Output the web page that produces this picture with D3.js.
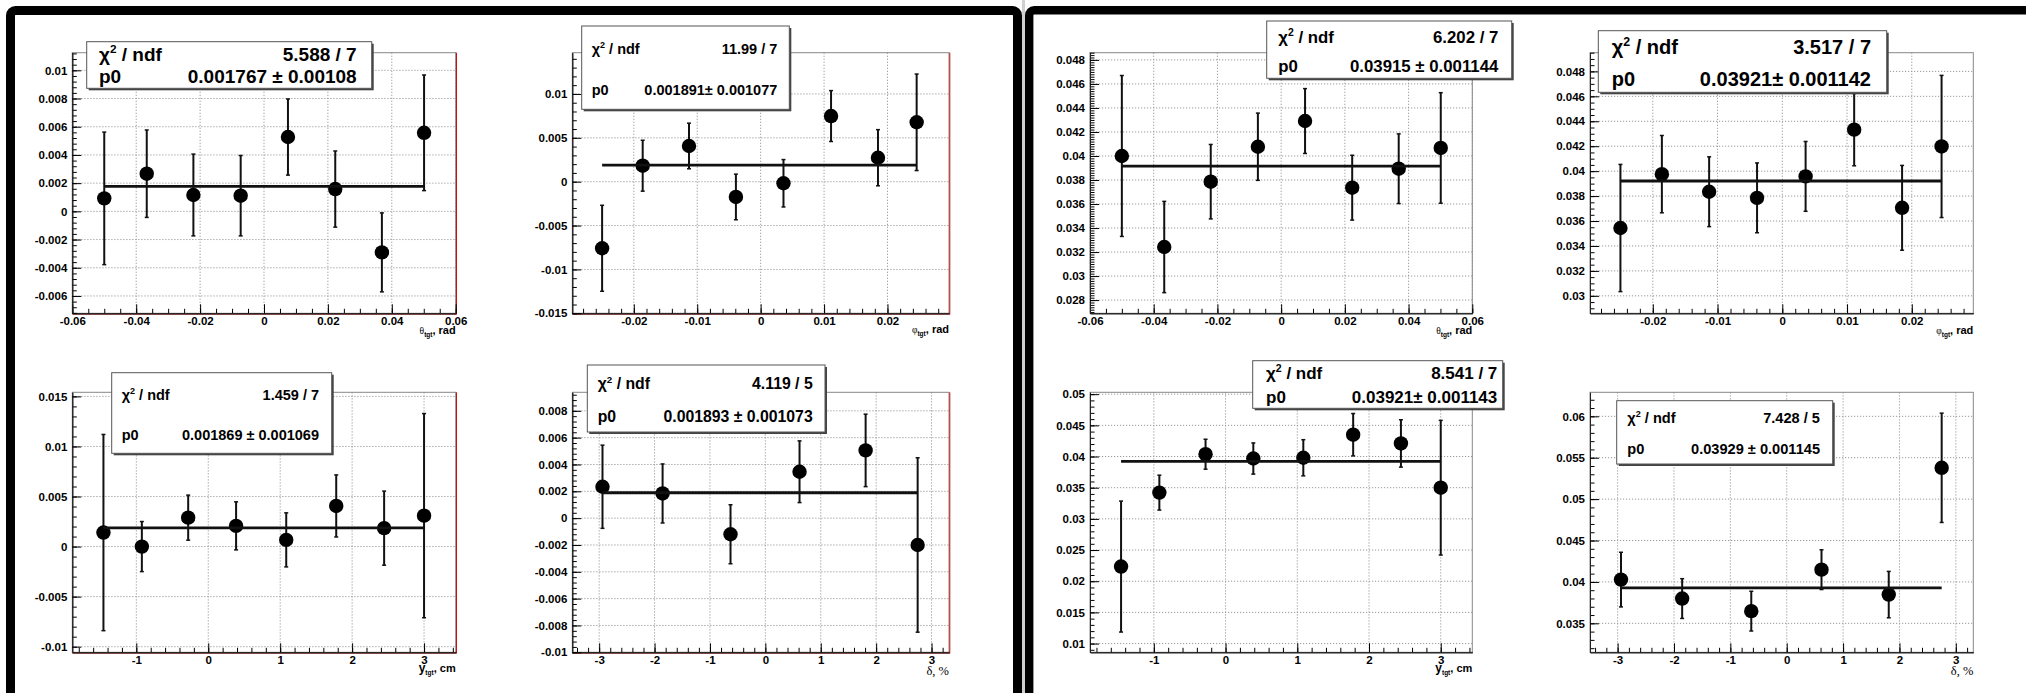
<!DOCTYPE html>
<html>

<head>
    <meta charset="utf-8">
    <style>
        body {
            margin: 0;
            background: #fff;
        }

        svg {
            display: block;
            font-family: 'Liberation Sans', Arial, sans-serif;
        }

        .tick text {
            font-size: 11.5px;
            font-weight: bold;
            fill: #000;
        }

        .stats text {
            font-weight: bold;
        }
    </style>
</head>

<body>
    <svg width="2026" height="693"></svg>

    <script src="https://cdn.jsdelivr.net/npm/d3@7"></script>

    <script>
        // bin centres of the four variables
        let thetaBins = [-0.0500, -0.0367, -0.0221, -0.0073, 0.0075, 0.0223, 0.0369, 0.0501]
        let phiBins = [-0.0250, -0.0186, -0.0113, -0.0039, 0.0036, 0.0111, 0.0185, 0.0246]
        let ytgtBins = [-1.457, -0.923, -0.279, 0.387, 1.084, 1.779, 2.445, 3.0]
        let deltaBins = [-2.94, -1.855, -0.629, 0.617, 1.81, 2.749]

        // left canvas values and errors
        let leftTheta = [0.00092, 0.00267, 0.00116, 0.00111, 0.00527, 0.00158, -0.00291, 0.00557]
        let leftThetaErr = [0.0047, 0.0031, 0.0029, 0.00285, 0.0027, 0.0027, 0.0028, 0.0041]
        let leftPhi = [-0.00759, 0.00182, 0.00407, -0.00174, -0.00018, 0.00748, 0.00273, 0.00677]
        let leftPhiErr = [0.0049, 0.0029, 0.0026, 0.0026, 0.0027, 0.0029, 0.0032, 0.0055]
        let leftYtgt = [0.0014, 0.0, 0.00289, 0.00207, 0.00067, 0.00406, 0.00184, 0.00309]
        let leftYtgtErr = [0.0098, 0.0025, 0.00225, 0.0024, 0.0027, 0.0031, 0.0037, 0.0102]
        let leftDelta = [0.00234, 0.00184, -0.0012, 0.00346, 0.00505, -0.002]
        let leftDeltaErr = [0.0031, 0.0022, 0.0022, 0.0023, 0.0027, 0.0065]

        // right canvas values and errors
        let rightTheta = [0.0400, 0.03242, 0.03786, 0.04077, 0.04291, 0.03736, 0.03894, 0.04067]
        let rightThetaErr = [0.0067, 0.0038, 0.0031, 0.0028, 0.0027, 0.0027, 0.0029, 0.0046]
        let rightPhi = [0.03544, 0.03976, 0.03835, 0.03786, 0.03958, 0.04333, 0.03706, 0.04198]
        let rightPhiErr = [0.0051, 0.0031, 0.0028, 0.0028, 0.0028, 0.0029, 0.0034, 0.0057]
        let rightYtgt = [0.02235, 0.03421, 0.04037, 0.03968, 0.0398, 0.0435, 0.0421, 0.035]
        let rightYtgtErr = [0.0105, 0.0028, 0.0024, 0.0025, 0.0029, 0.0034, 0.0038, 0.0108]
        let rightDelta = [0.04028, 0.03799, 0.03647, 0.04148, 0.03847, 0.05378]
        let rightDeltaErr = [0.0033, 0.0024, 0.0024, 0.0024, 0.0028, 0.0066]

        // pol0 fit results (theta, phi, ytgt, delta)
        let leftP0 = [0.001767, 0.001891, 0.001869, 0.001893]
        let rightP0 = [0.03915, 0.03921, 0.03921, 0.03929]
        let leftChi2 = ["5.588 / 7", "11.99 / 7", "1.459 / 7", "4.119 / 5"]
        let rightChi2 = ["6.202 / 7", "3.517 / 7", "8.541 / 7", "7.428 / 5"]
        let leftP0Text = ["0.001767 \u00b1 0.00108", "0.001891\u00b1 0.001077", "0.001869 \u00b1 0.001069", "0.001893 \u00b1 0.001073"]
        let rightP0Text = ["0.03915 \u00b1 0.001144", "0.03921\u00b1 0.001142", "0.03921\u00b1 0.001143", "0.03929 \u00b1 0.001145"]

        let svg = d3.select("svg")

        // canvas borders
        svg.append("rect").attr("x", 1022).attr("y", 0).attr("width", 3).attr("height", 693).attr("fill", "#d0d0d0")
        svg.append("rect")
            .attr("x", 10.5).attr("y", 10.5).attr("width", 1007).attr("height", 900).attr("rx", 5)
            .attr("fill", "none").attr("stroke", "#000").attr("stroke-width", 9)
        svg.append("rect")
            .attr("x", 1029.2).attr("y", 10.25).attr("width", 1200).attr("height", 900).attr("rx", 5)
            .attr("fill", "none").attr("stroke", "#000").attr("stroke-width", 8.4)

        function stepTicks(domain, step) {
            let out = []
            let k0 = Math.ceil(domain[0] / step - 1e-6)
            let k1 = Math.floor(domain[1] / step + 1e-6)
            for (let k = k0; k <= k1; k++) out.push(+(k * step).toFixed(8))
            return out
        }

        let fmt = v => String(+v.toFixed(6))

        let titles = {
            theta: { sym: "\u03b8", sub: "tgt", rest: ", rad" },
            phi: { sym: "\u03c6", sub: "tgt", rest: ", rad" },
            ytgt: { sym: "y", sub: "tgt", rest: ", cm" },
            delta: { sym: "\u03b4", sub: "", rest: ", %" }
        }

        let colL = [[72.3, 455.7], [572.3, 949]]
        let colR = [[1090, 1472.3], [1590, 1973.3]]
        let rowT = [52.7, 313.3]
        let rowB = [392.3, 652.3]

        let panels = [
            // left canvas
            {
                col: colL[0], row: rowT, red: true, xDom: [-0.06, 0.06], yDom: [-0.00723, 0.01125],
                xStep: 0.02, xSub: 4, yStep: 0.002, ySub: 5, bins: thetaBins, vals: leftTheta, errs: leftThetaErr,
                p0: leftP0[0], chi2: leftChi2[0], p0Text: leftP0Text[0], title: titles.theta, titleBase: 334.3,
                box: [86.7, 41.7, 371.7, 88.3], fs: 19, lx: 99, b1: 61, b2: 83.3, rx: 356.7
            },
            {
                col: colL[1], row: rowT, red: true, xDom: [-0.0297, 0.0297], yDom: [-0.015, 0.0147],
                xStep: 0.01, xSub: 5, yStep: 0.005, ySub: 5, bins: phiBins, vals: leftPhi, errs: leftPhiErr,
                p0: leftP0[1], chi2: leftChi2[1], p0Text: leftP0Text[1], title: titles.phi, titleBase: 333.3,
                box: [581.7, 26, 789.3, 109.3], fs: 14.5, lx: 591.7, b1: 54, b2: 95, rx: 777.3
            },
            {
                col: colL[0], row: rowB, red: true, xDom: [-1.89, 3.44], yDom: [-0.01056, 0.01541],
                xStep: 1, xSub: 5, yStep: 0.005, ySub: 5, bins: ytgtBins, vals: leftYtgt, errs: leftYtgtErr,
                p0: leftP0[2], chi2: leftChi2[2], p0Text: leftP0Text[2], title: titles.ytgt, titleBase: 671.7,
                box: [111.7, 372.7, 331.7, 453.3], fs: 14.5, lx: 121.7, b1: 400, b2: 440, rx: 319
            },
            {
                col: colL[1], row: rowB, red: true, xDom: [-3.485, 3.315], yDom: [-0.01, 0.00938],
                xStep: 1, xSub: 5, yStep: 0.002, ySub: 5, bins: deltaBins, vals: leftDelta, errs: leftDeltaErr,
                p0: leftP0[3], chi2: leftChi2[3], p0Text: leftP0Text[3], title: titles.delta, titleBase: 675,
                box: [587.3, 365, 825, 432], fs: 15.8, lx: 597.7, b1: 389.3, b2: 422.3, rx: 812.7
            },
            // right canvas
            {
                col: colR[0], row: rowT, red: false, xDom: [-0.06, 0.06], yDom: [0.0269, 0.0486],
                xStep: 0.02, xSub: 4, yStep: 0.002, ySub: 10, bins: thetaBins, vals: rightTheta, errs: rightThetaErr,
                p0: rightP0[0], chi2: rightChi2[0], p0Text: rightP0Text[0], title: titles.theta, titleBase: 334.3,
                box: [1266.7, 21, 1511.7, 78.3], fs: 16.8, lx: 1278.3, b1: 42.7, b2: 71.7, rx: 1498.3
            },
            {
                col: colR[1], row: rowT, red: false, xDom: [-0.0297, 0.0295], yDom: [0.0286, 0.0495],
                xStep: 0.01, xSub: 5, yStep: 0.002, ySub: 4, bins: phiBins, vals: rightPhi, errs: rightPhiErr,
                p0: rightP0[1], chi2: rightChi2[1], p0Text: rightP0Text[1], title: titles.phi, titleBase: 334,
                box: [1598.3, 30.7, 1886.7, 92.3], fs: 20, lx: 1611.7, b1: 54.3, b2: 85.7, rx: 1871
            },
            {
                col: colR[0], row: rowB, red: false, xDom: [-1.89, 3.44], yDom: [0.0086, 0.0503],
                xStep: 1, xSub: 5, yStep: 0.005, ySub: 5, bins: ytgtBins, vals: rightYtgt, errs: rightYtgtErr,
                p0: rightP0[2], chi2: rightChi2[2], p0Text: rightP0Text[2], title: titles.ytgt, titleBase: 671.7,
                box: [1252.7, 360.7, 1502.7, 408.3], fs: 17, lx: 1266, b1: 379.3, b2: 403.3, rx: 1497.3
            },
            {
                col: colR[1], row: rowB, red: false, xDom: [-3.49, 3.31], yDom: [0.0315, 0.0629],
                xStep: 1, xSub: 5, yStep: 0.005, ySub: 5, bins: deltaBins, vals: rightDelta, errs: rightDeltaErr,
                p0: rightP0[3], chi2: rightChi2[3], p0Text: rightP0Text[3], title: titles.delta, titleBase: 675,
                box: [1616.7, 400.7, 1832.7, 464], fs: 14.6, lx: 1627.3, b1: 423.3, b2: 454.3, rx: 1820
            }
        ]

        panels.forEach(drawPanel)

        function drawPanel(p) {
            let [left, right] = p.col
            let [top, bottom] = p.row
            let x = d3.scaleLinear().domain(p.xDom).range([left, right])
            let y = d3.scaleLinear().domain(p.yDom).range([bottom, top])

            let g = svg.append("g")

            let xMajor = stepTicks(p.xDom, p.xStep)
            let yMajor = stepTicks(p.yDom, p.yStep)
            let xMinor = stepTicks(p.xDom, p.xStep / p.xSub)
            let yMinor = stepTicks(p.yDom, p.yStep / p.ySub)

            // dotted grid
            g.append("g").selectAll("line")
                .data(xMajor)
                .join("line")
                .attr("x1", d => x(d)).attr("x2", d => x(d))
                .attr("y1", top).attr("y2", bottom)
                .attr("stroke", "#999").attr("stroke-dasharray", "1.2,1.8")
            g.append("g").selectAll("line")
                .data(yMajor)
                .join("line")
                .attr("x1", left).attr("x2", right)
                .attr("y1", d => y(d)).attr("y2", d => y(d))
                .attr("stroke", "#999").attr("stroke-dasharray", "1.2,1.8")

            // frame
            g.append("rect")
                .attr("x", left).attr("y", top).attr("width", right - left).attr("height", bottom - top)
                .attr("fill", "none").attr("stroke", "#888")
            if (p.red) {
                g.append("line").attr("x1", right + 0.8).attr("x2", right + 0.8).attr("y1", top).attr("y2", bottom + 1)
                    .attr("stroke", "#c81010").attr("stroke-width", 1)
                g.append("line").attr("x1", left).attr("x2", right + 1).attr("y1", bottom + 0.8).attr("y2", bottom + 0.8)
                    .attr("stroke", "#c81010").attr("stroke-width", 1)
            }

            // axes: minor ticks, then major ticks with labels
            let axX = g.append("g").attr("transform", `translate(0,${bottom})`)
            axX.append("g").call(d3.axisBottom(x).tickValues(xMinor).tickSize(-4.5).tickSizeOuter(0).tickFormat(""))
            axX.append("g").call(d3.axisBottom(x).tickValues(xMajor).tickSize(-9).tickSizeOuter(0).tickPadding(3.5).tickFormat(fmt))

            let axY = g.append("g").attr("transform", `translate(${left},0)`)
            axY.append("g").call(d3.axisLeft(y).tickValues(yMinor).tickSize(-4.5).tickSizeOuter(0).tickFormat(""))
            axY.append("g").call(d3.axisLeft(y).tickValues(yMajor).tickSize(-9).tickSizeOuter(0).tickPadding(5).tickFormat(fmt))

            g.selectAll(".domain").attr("stroke", "#222")

            // axis title
            let t = g.append("text")
                .attr("x", right).attr("y", p.titleBase)
                .attr("text-anchor", "end")
            if (p.title.sym === "y") {
                t.append("tspan").attr("font-size", 12).attr("font-weight", "bold").text("y")
            } else {
                t.append("tspan").attr("font-size", p.title.sub ? 9.5 : 12.5)
                    .attr("font-family", "'Liberation Serif', 'DejaVu Serif', serif").text(p.title.sym)
            }
            if (p.title.sub) {
                t.append("tspan").attr("font-size", 6.5).attr("font-weight", "bold").attr("dy", 3).text(p.title.sub)
                t.append("tspan").attr("font-size", 11).attr("font-weight", "bold").attr("dy", -3).text(p.title.rest)
            } else {
                t.append("tspan").attr("font-size", 12.5)
                    .attr("font-family", "'Liberation Serif', 'DejaVu Serif', serif").text(p.title.rest)
            }

            let pts = p.bins.map((b, i) => ({ x: b, v: p.vals[i], e: p.errs[i] }))

            // error bars
            let bars = g.append("g").attr("stroke", "#111")
            bars.selectAll(".bar")
                .data(pts)
                .join("line")
                .attr("x1", d => x(d.x)).attr("x2", d => x(d.x))
                .attr("y1", d => y(d.v - d.e)).attr("y2", d => y(d.v + d.e))
                .attr("stroke-width", 2)
            bars.selectAll(".cap")
                .data(pts.flatMap(d => [d.v - d.e, d.v + d.e].map(v => ({ x: d.x, v }))))
                .join("line")
                .attr("x1", d => x(d.x) - 2).attr("x2", d => x(d.x) + 2)
                .attr("y1", d => y(d.v)).attr("y2", d => y(d.v))
                .attr("stroke-width", 1.5)

            // markers
            g.append("g").selectAll("circle")
                .data(pts)
                .join("circle")
                .attr("cx", d => x(d.x)).attr("cy", d => y(d.v))
                .attr("r", 7.2)
                .attr("fill", "#000")

            // pol0 fit line over fit range
            let fitRange = d3.extent(p.bins)
            g.append("line")
                .attr("x1", x(fitRange[0])).attr("x2", x(fitRange[1]))
                .attr("y1", y(p.p0)).attr("y2", y(p.p0))
                .attr("stroke", "#111").attr("stroke-width", 2.8)

            // stats box
            let [bx0, by0, bx1, by1] = p.box
            let s = g.append("g").attr("class", "stats")
            s.append("rect")
                .attr("x", bx0 + 2).attr("y", by0 + 2).attr("width", bx1 - bx0).attr("height", by1 - by0)
                .attr("fill", "#444")
            s.append("rect")
                .attr("x", bx0).attr("y", by0).attr("width", bx1 - bx0).attr("height", by1 - by0)
                .attr("fill", "#fff").attr("stroke", "#555")

            let l1 = s.append("text").attr("x", p.lx).attr("y", p.b1).attr("font-size", p.fs)
            l1.append("tspan").text("\u03c7")
            l1.append("tspan").attr("font-size", p.fs * 0.62).attr("dy", -p.fs * 0.42).text("2")
            l1.append("tspan").attr("dy", p.fs * 0.42).text(" / ndf")
            s.append("text").attr("x", p.rx).attr("y", p.b1).attr("font-size", p.fs)
                .attr("text-anchor", "end").text(p.chi2)
            s.append("text").attr("x", p.lx).attr("y", p.b2).attr("font-size", p.fs).text("p0")
            s.append("text").attr("x", p.rx).attr("y", p.b2).attr("font-size", p.fs)
                .attr("text-anchor", "end").text(p.p0Text)
        }
    </script>
</body>

</html>
